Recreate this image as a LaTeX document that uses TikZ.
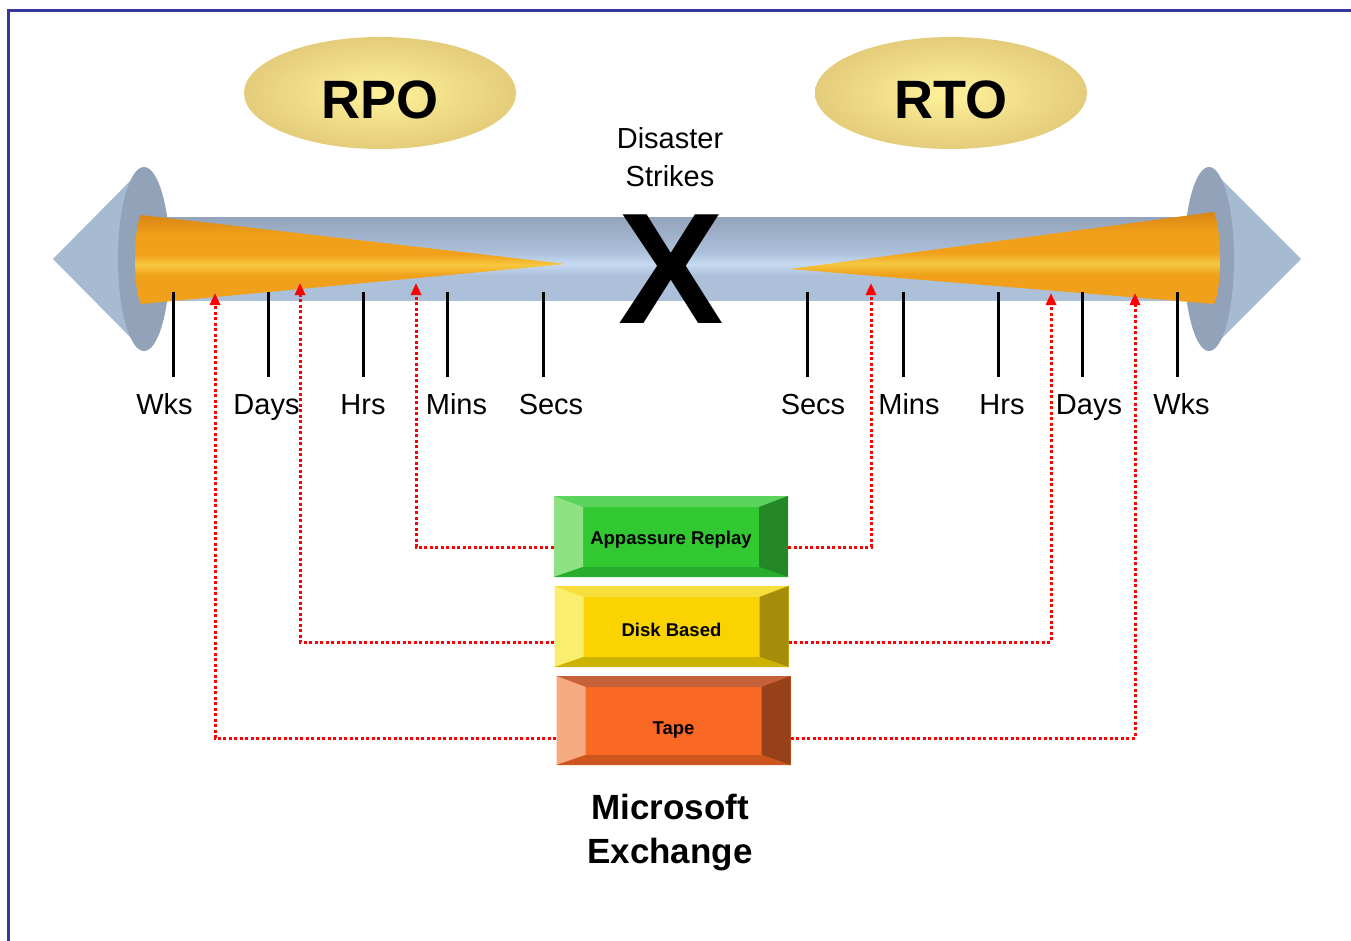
\documentclass[tikz,border=0pt]{standalone}
\usepackage{fontspec}
\setmainfont{Liberation Sans}
\usetikzlibrary{arrows.meta,shapes.geometric}
\definecolor{frameBlue}{RGB}{55,55,160}
\definecolor{shaftDark}{RGB}{148,164,188}
\definecolor{shaftLight}{RGB}{198,218,242}
\definecolor{shaftMid}{RGB}{172,192,218}
\definecolor{coneFace}{RGB}{166,186,210}
\definecolor{coneBase}{RGB}{146,162,184}
\definecolor{orDark}{RGB}{216,134,20}
\definecolor{orLight}{RGB}{246,200,64}
\definecolor{orMid}{RGB}{240,160,26}
\definecolor{ovalIn}{RGB}{255,242,155}
\definecolor{ovalOut}{RGB}{228,204,122}
\definecolor{linkRed}{RGB}{255,0,0}
% box colours: face / top / left / right / bottom
\definecolor{gFace}{RGB}{50,200,50}
\definecolor{gTop}{RGB}{92,212,92}
\definecolor{gLeft}{RGB}{142,226,132}
\definecolor{gRight}{RGB}{36,136,40}
\definecolor{gBot}{RGB}{40,172,45}
\definecolor{yFace}{RGB}{250,212,0}
\definecolor{yTop}{RGB}{248,222,60}
\definecolor{yLeft}{RGB}{250,238,110}
\definecolor{yRight}{RGB}{165,140,10}
\definecolor{yBot}{RGB}{205,178,0}
\definecolor{oFace}{RGB}{250,105,35}
\definecolor{oTop}{RGB}{198,96,56}
\definecolor{oLeft}{RGB}{245,170,130}
\definecolor{oRight}{RGB}{150,65,25}
\definecolor{oBot}{RGB}{205,85,30}

% shadings with a narrow highlight
\pgfdeclareverticalshading{wedge}{100bp}{color(0bp)=(orMid); color(25bp)=(orMid);
  color(41bp)=(orMid); color(47bp)=(orLight); color(53bp)=(orMid);
  color(64bp)=(orMid); color(75bp)=(orDark); color(100bp)=(orDark)}
\pgfdeclareverticalshading{shaft}{100bp}{color(0bp)=(shaftMid); color(25bp)=(shaftMid);
  color(40bp)=(shaftMid); color(47bp)=(shaftLight); color(54bp)=(shaftMid);
  color(75bp)=(shaftDark); color(100bp)=(shaftDark)}

\tikzset{
  bevelbox/.style n args={5}{fill=#1, minimum width=234pt, inner sep=0pt,
    font=\bfseries\fontsize{18.5}{22}\selectfont,
    path picture={
      \fill[#2] (path picture bounding box.north west) -- (path picture bounding box.north east)
        -- ([shift={(-29pt,-11pt)}]path picture bounding box.north east)
        -- ([shift={(29pt,-11pt)}]path picture bounding box.north west) -- cycle;
      \fill[#3] (path picture bounding box.north west) -- ([shift={(29pt,-11pt)}]path picture bounding box.north west)
        -- ([shift={(29pt,10pt)}]path picture bounding box.south west)
        -- (path picture bounding box.south west) -- cycle;
      \fill[#4] (path picture bounding box.north east) -- ([shift={(-29pt,-11pt)}]path picture bounding box.north east)
        -- ([shift={(-29pt,10pt)}]path picture bounding box.south east)
        -- (path picture bounding box.south east) -- cycle;
      \fill[#5] (path picture bounding box.south west) -- ([shift={(29pt,10pt)}]path picture bounding box.south west)
        -- ([shift={(-29pt,10pt)}]path picture bounding box.south east)
        -- (path picture bounding box.south east) -- cycle;
    }},
  oval/.style={ellipse, minimum width=272pt, minimum height=112pt, inner sep=0pt,
    inner color=ovalIn, outer color=ovalOut, text height=52pt,
    font=\bfseries\fontsize{54}{60}\selectfont},
  tick/.style={line width=3pt},
  scalelabel/.style={anchor=base, inner sep=0pt, font=\fontsize{29}{34}\selectfont},
  link/.style={linkRed, line width=3pt, dash pattern=on 3pt off 2.5pt,
    -{Triangle[length=12pt,width=10pt]}}
}

\begin{document}
\begin{tikzpicture}[x=1pt, y=-1pt]
  \useasboundingbox (0,0) rectangle (1351,941);

  % Frame
  \draw[frameBlue, line width=3pt] (8.5,941) -- (8.5,10.5) -- (1351,10.5);

  % Arrow heads of the time line
  \fill[coneFace] (53,259) -- (144,167) -- (144,351) -- cycle;
  \fill[coneBase] (144,259) ellipse (26 and 92);
  \fill[coneFace] (1301,259) -- (1209,167) -- (1209,351) -- cycle;
  \fill[coneBase] (1209,259) ellipse (25 and 92);

  % Shaft
  \shade[shading=shaft] (165,218) rectangle (1190,300);

  % Orange wedges
  \shade[shading=wedge]
    (141,215) -- (566,264) -- (141,304) .. controls (133,290) and (133,229) .. (141,215);
  \shade[shading=wedge]
    (790,269) -- (1214,212) .. controls (1222,230) and (1222,288) .. (1214,304) -- cycle;

  % Ticks and their labels
  \foreach \x in {173,268,363,447,543,807,903,998,1082,1177}
    \draw[tick] (\x,292) -- (\x,377);
  \foreach \x/\t in {164.5/Wks, 266.5/Days, 363/Hrs, 456.5/Mins, 551/Secs,
                     813/Secs, 909/Mins, 1002/Hrs, 1089/Days, 1181.5/Wks}
    \node[scalelabel] (lbl\x) at (\x,414) {\t};

  % Disaster
  \node[anchor=base, inner sep=0pt, font=\bfseries\fontsize{158}{158}\selectfont] (strike) at (671,323) {X};
  \node[align=center, inner sep=0pt, font=\fontsize{29}{38}\selectfont] (disaster) at (670,157) {Disaster\\Strikes};

  % RPO / RTO
  \node[oval] (rpo) at (380,93) {RPO};
  \node[oval] (rto) at (951,93) {RTO};

  % Solutions
  \node[bevelbox={gFace}{gTop}{gLeft}{gRight}{gBot}, minimum height=81pt,
        text height=19pt, text depth=4pt] (rep) at (671,536.5) {Appassure Replay};
  \node[bevelbox={yFace}{yTop}{yLeft}{yRight}{yBot}, minimum height=81pt,
        text height=23pt, text depth=4pt] (disk) at (671.5,626.5) {Disk Based};
  \node[bevelbox={oFace}{oTop}{oLeft}{oRight}{oBot}, minimum height=89pt,
        text height=31pt, text depth=4pt] (tape) at (673.5,720.5) {Tape};
  \node[align=center, inner sep=0pt, font=\bfseries\fontsize{35}{44}\selectfont] (exch) at (670,833) {Microsoft\\Exchange};

  % Points on the wedges
  \coordinate (rpoMins) at (416,283);
  \coordinate (rpoDays) at (300,283);
  \coordinate (rpoWks) at (215,293);
  \coordinate (rtoMins) at (871,283);
  \coordinate (rtoDays) at (1051,293);
  \coordinate (rtoWks) at (1135,293);

  % Links
  \draw[link] ([yshift=-10.5pt]rep.west) -| (rpoMins);
  \draw[link] ([yshift=-10.5pt]rep.east) -| (rtoMins);
  \draw[link] ([yshift=-15.5pt]disk.west) -| (rpoDays);
  \draw[link] ([yshift=-15.5pt]disk.east) -| (rtoDays);
  \draw[link] ([yshift=-17.5pt]tape.west) -| (rpoWks);
  \draw[link] ([yshift=-17.5pt]tape.east) -| (rtoWks);

\end{tikzpicture}
\end{document}
